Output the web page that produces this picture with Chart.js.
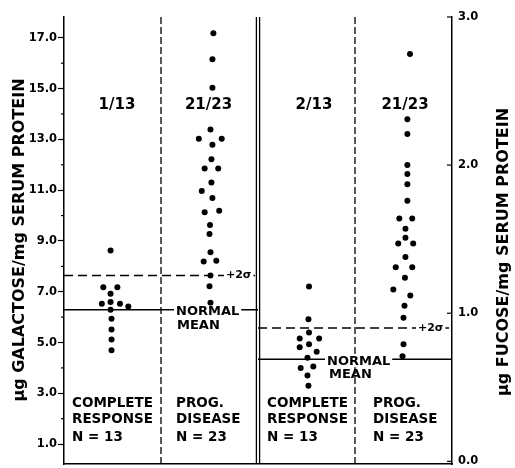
<!DOCTYPE html>
<html>
<head>
<meta charset="utf-8">
<script src="https://cdn.jsdelivr.net/npm/chart.js@4.4.1/dist/chart.umd.min.js"></script>
<style>
  html, body { margin: 0; padding: 0; background: #fff; }
  #wrap { width: 515px; height: 468px; }
</style>
</head>
<body>
<div id="wrap"><canvas id="chart" width="515" height="468"></canvas></div>
<script>
// galactose, left axis (panels 0..2)
const galCrX = [0.48, 0.405, 0.55, 0.48, 0.39, 0.48, 0.577, 0.663, 0.48, 0.49, 0.49, 0.49, 0.49];
const galCrY = [8.62, 7.18, 7.18, 6.92, 6.53, 6.60, 6.53, 6.42, 6.29, 5.94, 5.51, 5.12, 4.70];
const galPdX = [1.54, 1.53, 1.53, 1.51, 1.39, 1.626, 1.53, 1.52, 1.45, 1.59, 1.52, 1.42, 1.53,
                1.45, 1.60, 1.505, 1.50, 1.51, 1.44, 1.57, 1.51, 1.50, 1.51];
const galPdY = [17.18, 16.16, 15.03, 13.39, 13.03, 13.03, 12.79, 12.22, 11.85, 11.85, 11.30, 10.97, 10.69,
                10.13, 10.19, 9.63, 9.27, 8.56, 8.19, 8.22, 7.64, 7.22, 6.57];
// fucose, right axis (panels 2..4)
const fucCrX = [2.526, 2.52, 2.43, 2.526, 2.63, 2.43, 2.526, 2.605, 2.51, 2.44, 2.57, 2.51, 2.52];
const fucCrY = [1.18, 0.96, 0.83, 0.87, 0.83, 0.77, 0.79, 0.74, 0.70, 0.63, 0.64, 0.58, 0.51];
const fucPdX = [3.567, 3.54, 3.54, 3.54, 3.54, 3.54, 3.54, 3.457, 3.59, 3.52, 3.52, 3.446, 3.60,
                3.52, 3.42, 3.59, 3.515, 3.395, 3.57, 3.51, 3.50, 3.50, 3.49];
const fucPdY = [2.75, 2.31, 2.21, 2.00, 1.94, 1.87, 1.76, 1.64, 1.64, 1.57, 1.51, 1.47, 1.47,
                1.38, 1.31, 1.31, 1.24, 1.16, 1.12, 1.05, 0.97, 0.79, 0.71];

const galMean = 6.29, galPlus2sd = 7.64;
const fucMean = 0.69, fucPlus2sd = 0.90;

const leftTicks = [1, 2, 3, 4, 5, 6, 7, 8, 9, 10, 11, 12, 13, 14, 15, 16, 17];
const rightTicks = [0, 1, 2, 3];
const dashedDividers = [1, 3];
const doubleDivider = 2;

const ratios = ['1/13', '21/23', '2/13', '21/23'];
const groupText = [
  ['COMPLETE', 'RESPONSE', 'N = 13'],
  ['PROG.', 'DISEASE', 'N = 23'],
  ['COMPLETE', 'RESPONSE', 'N = 13'],
  ['PROG.', 'DISEASE', 'N = 23']
];
const leftTitle = 'μg GALACTOSE/mg SERUM PROTEIN';
const rightTitle = 'μg FUCOSE/mg SERUM PROTEIN';

const FONT = '"DejaVu Sans", "Liberation Sans", sans-serif';
const pts = (xs, ys) => xs.map((x, i) => ({ x, y: ys[i] }));

function dots(xs, ys, axis) {
  return {
    type: 'scatter', data: pts(xs, ys), yAxisID: axis, order: 0,
    pointRadius: 3, pointBackgroundColor: '#000', pointBorderWidth: 0
  };
}
function refLine(y, x0, x1, axis, dash) {
  return {
    type: 'line', data: [{ x: x0, y }, { x: x1, y }], yAxisID: axis, order: 1,
    borderColor: '#000', borderWidth: 1.5, borderDash: dash, pointRadius: 0
  };
}

function putText(ctx, text, x, y, align, bg) {
  ctx.textAlign = align;
  if (bg) {
    const w = ctx.measureText(text).width;
    const left = align === 'center' ? x - w / 2 : x;
    ctx.fillStyle = '#fff';
    ctx.fillRect(left - 2, y - 6, w + 4, 12);
  }
  ctx.fillStyle = '#000';
  ctx.fillText(text, x, y);
}

const paperPlugin = {
  id: 'paper',
  beforeDatasetsDraw(chart) {
    const { ctx, chartArea, scales } = chart;
    ctx.save();
    ctx.strokeStyle = '#000';
    ctx.lineWidth = 1.3;
    ctx.setLineDash([7, 3]);
    dashedDividers.forEach(v => {
      const px = scales.x.getPixelForValue(v);
      ctx.beginPath();
      ctx.moveTo(px, chartArea.top);
      ctx.lineTo(px, chartArea.bottom);
      ctx.stroke();
    });
    ctx.setLineDash([]);
    const mid = scales.x.getPixelForValue(doubleDivider);
    [-1.6, 1.6].forEach(d => {
      ctx.beginPath();
      ctx.moveTo(mid + d, chartArea.top);
      ctx.lineTo(mid + d, chartArea.bottom);
      ctx.stroke();
    });
    // short minor ticks on the left axis, inward ticks on the right axis
    ctx.lineWidth = 1.2;
    leftTicks.filter(v => v % 2 === 0).forEach(v => {
      const py = scales.y.getPixelForValue(v);
      ctx.beginPath();
      ctx.moveTo(chartArea.left - 3, py);
      ctx.lineTo(chartArea.left, py);
      ctx.stroke();
    });
    rightTicks.forEach(v => {
      const py = scales.y1.getPixelForValue(v);
      ctx.beginPath();
      ctx.moveTo(chartArea.right - 5, py);
      ctx.lineTo(chartArea.right, py);
      ctx.stroke();
    });
    ctx.restore();
  },
  afterDatasetsDraw(chart) {
    const { ctx, scales } = chart;
    const y = scales.y, y1 = scales.y1;
    ctx.save();
    ctx.textBaseline = 'middle';

    // ratios above the groups
    ctx.font = 'bold 15px ' + FONT;
    [117, 208.5, 314, 405].forEach((px, i) => putText(ctx, ratios[i], px, 105, 'center'));

    // group names at the bottom
    ctx.font = 'bold 13.5px ' + FONT;
    [72, 176, 267, 373].forEach((px, i) => {
      groupText[i].forEach((t, j) => putText(ctx, t, px, [403, 419, 437][j], 'left'));
    });

    // normal mean and +2 sigma labels
    ctx.font = 'bold 13px ' + FONT;
    const gm = y.getPixelForValue(galMean);
    putText(ctx, 'NORMAL', 176, gm + 2, 'left', true);
    putText(ctx, 'MEAN', 177, gm + 16, 'left');
    const fm = y1.getPixelForValue(fucMean);
    putText(ctx, 'NORMAL', 327, fm + 2, 'left', true);
    putText(ctx, 'MEAN', 329, fm + 15, 'left');
    ctx.font = 'bold 11px ' + FONT;
    putText(ctx, '+2σ', 226, y.getPixelForValue(galPlus2sd), 'left', true);
    putText(ctx, '+2σ', 418, y1.getPixelForValue(fucPlus2sd), 'left', true);

    // axis titles, both reading bottom to top
    ctx.font = 'bold 16px ' + FONT;
    ctx.fillStyle = '#000';
    ctx.textAlign = 'center';
    ctx.save();
    ctx.translate(20, 240);
    ctx.rotate(-Math.PI / 2);
    ctx.fillText(leftTitle, 0, 0);
    ctx.restore();
    ctx.save();
    ctx.translate(504, 252);
    ctx.rotate(-Math.PI / 2);
    ctx.fillText(rightTitle, 0, 0);
    ctx.restore();
    ctx.restore();
  }
};

const tickFont = { family: FONT, size: 11.5, weight: 'bold' };

new Chart(document.getElementById('chart'), {
  type: 'scatter',
  data: {
    datasets: [
      dots(galCrX, galCrY, 'y'),
      dots(galPdX, galPdY, 'y'),
      dots(fucCrX, fucCrY, 'y1'),
      dots(fucPdX, fucPdY, 'y1'),
      refLine(galPlus2sd, 0, 2, 'y', [9, 5]),
      refLine(galMean, 0, 2, 'y', []),
      refLine(fucPlus2sd, 2, 4, 'y1', [9, 5]),
      refLine(fucMean, 2, 4, 'y1', [])
    ]
  },
  options: {
    responsive: false,
    animation: false,
    devicePixelRatio: 1,
    layout: { padding: { top: 17, bottom: 0, left: 0, right: 0 } },
    plugins: { legend: { display: false }, tooltip: { enabled: false } },
    scales: {
      x: {
        type: 'linear', min: 0, max: 4,
        ticks: { display: false },
        grid: { display: false },
        border: { display: true, color: '#000', width: 1.5 },
        afterFit: s => { s.height = 2; }
      },
      y: {
        position: 'left', min: 0.216, max: 17.82,
        afterBuildTicks: s => { s.ticks = leftTicks.map(v => ({ value: v })); },
        ticks: {
          autoSkip: false, color: '#000', font: tickFont, padding: 1,
          callback: v => (v % 2 === 1 ? v.toFixed(1) : '')
        },
        grid: {
          drawOnChartArea: false, tickLength: 6, tickWidth: 1.2,
          tickColor: c => (c.tick && c.tick.value % 2 === 1 ? '#000' : 'rgba(0,0,0,0)')
        },
        border: { display: true, color: '#000', width: 1.5 },
        afterFit: s => { s.width = 64; s.paddingTop = 0; s.paddingBottom = 0; }
      },
      y1: {
        position: 'right', min: -0.018, max: 3.0,
        afterBuildTicks: s => { s.ticks = rightTicks.map(v => ({ value: v })); },
        ticks: { autoSkip: false, color: '#000', font: tickFont, padding: 6, callback: v => v.toFixed(1) },
        grid: { drawOnChartArea: false, drawTicks: false },
        border: { display: true, color: '#000', width: 1.5 },
        afterFit: s => { s.width = 63; s.paddingTop = 0; s.paddingBottom = 0; }
      }
    }
  },
  plugins: [paperPlugin]
});
</script>
</body>
</html>
